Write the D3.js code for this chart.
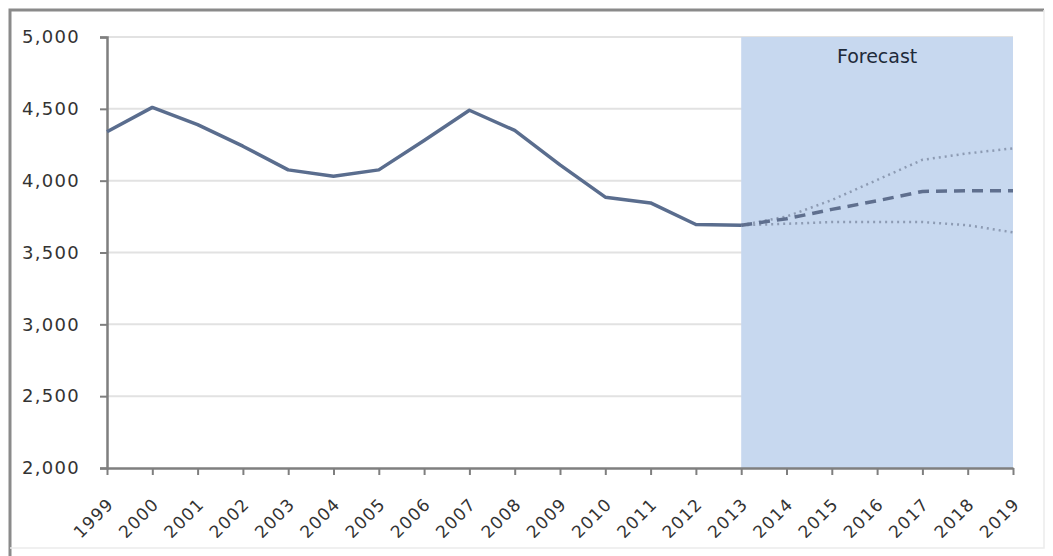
<!DOCTYPE html>
<html>
<head>
<meta charset="utf-8">
<script src="https://cdn.jsdelivr.net/npm/d3@7"></script>
<style>
  html, body { margin: 0; padding: 0; background: #ffffff; }
  svg { display: block; }
  text { font-family: "DejaVu Sans", Verdana, sans-serif; }
</style>
</head>
<body>
<svg id="chart" width="1053" height="556"></svg>
<script>
// Years on the category axis
const years = ["1999","2000","2001","2002","2003","2004","2005","2006","2007","2008","2009",
               "2010","2011","2012","2013","2014","2015","2016","2017","2018","2019"];

// Actual values, 1999–2013
const actualYears = years.slice(0, 15);
const actualValues = [4340, 4510, 4390, 4240, 4075, 4030, 4075, 4280, 4490, 4350, 4110, 3885, 3845, 3695, 3690];

// Forecast, 2013–2019: central path with high and low bounds
const forecastYears = ["2013","2014","2015","2016","2017","2018","2019"];
const forecastMid  = [3690, 3735, 3800, 3860, 3925, 3930, 3930];
const forecastHigh = [3690, 3750, 3865, 4005, 4145, 4190, 4225];
const forecastLow  = [3690, 3700, 3712, 3712, 3712, 3690, 3640];

const yTicks = [2000, 2500, 3000, 3500, 4000, 4500, 5000];
const forecastLabel = "Forecast";

const svg = d3.select("#chart");

// Outer frame
svg.append("path")
  .attr("d", "M10,556 L10,10 L1044,10")
  .attr("fill", "none").attr("stroke", "#8a8a8a").attr("stroke-width", 3);
svg.append("path")
  .attr("d", "M1044,10 L1044,548 L10,548")
  .attr("fill", "none").attr("stroke", "#ececec").attr("stroke-width", 1.5);

const x = d3.scalePoint().domain(years).range([107, 1013]);
const y = d3.scaleLinear().domain([2000, 5000]).range([468, 37]);

// Horizontal gridlines
svg.append("g").selectAll("line")
  .data(yTicks.filter(d => d > 2000))
  .join("line")
  .attr("x1", x("1999")).attr("x2", x("2019"))
  .attr("y1", d => y(d)).attr("y2", d => y(d))
  .attr("stroke", "#e2e2e2").attr("stroke-width", 2);

// Forecast band
svg.append("rect")
  .attr("x", x("2013")).attr("y", y(5000))
  .attr("width", x("2019") - x("2013"))
  .attr("height", y(2000) - y(5000))
  .attr("fill", "#c7d8ef");

svg.append("text")
  .attr("x", (x("2013") + x("2019")) / 2)
  .attr("y", 63)
  .attr("text-anchor", "middle")
  .attr("font-size", 19)
  .attr("fill", "#1e2a3a")
  .text(forecastLabel);

// Axes
const yAxis = d3.axisLeft(y).tickValues(yTicks).tickFormat(d3.format(","))
  .tickSize(7).tickPadding(20);
const gy = svg.append("g").attr("transform", `translate(${x("1999")},0)`).call(yAxis);
gy.select(".domain").attr("stroke", "#7f7f7f").attr("stroke-width", 2.5);
gy.selectAll(".tick line").attr("stroke", "#7f7f7f").attr("stroke-width", 2);
gy.selectAll(".tick text")
  .attr("font-size", 18).attr("fill", "#333").attr("letter-spacing", 1.3)
  .style("font-family", "DejaVu Sans, sans-serif");

const xAxis = d3.axisBottom(x).tickSize(7).tickSizeOuter(0);
const gx = svg.append("g").attr("transform", `translate(0,${y(2000)})`).call(xAxis);
gx.select(".domain").attr("stroke", "#7f7f7f").attr("stroke-width", 2.5);
gx.selectAll(".tick line").attr("stroke", "#7f7f7f").attr("stroke-width", 2);
gx.selectAll(".tick text")
  .attr("x", 0).attr("y", 0).attr("dy", "0.35em")
  .attr("text-anchor", "end")
  .attr("transform", "translate(3,33) rotate(-45)")
  .attr("font-size", 17).attr("fill", "#333").attr("letter-spacing", 1.2)
  .style("font-family", "DejaVu Sans, sans-serif");

// Lines
const line = d3.line().x(d => x(d[0])).y(d => y(d[1]));

svg.append("path")
  .datum(actualYears.map((yr, i) => [yr, actualValues[i]]))
  .attr("d", line)
  .attr("fill", "none").attr("stroke", "#5a6d8e").attr("stroke-width", 3.5)
  .attr("stroke-linejoin", "round");

svg.append("path")
  .datum(forecastYears.map((yr, i) => [yr, forecastHigh[i]]))
  .attr("d", line)
  .attr("fill", "none").attr("stroke", "#8d9bb3").attr("stroke-width", 2.5)
  .attr("stroke-dasharray", "2,4");

svg.append("path")
  .datum(forecastYears.map((yr, i) => [yr, forecastLow[i]]))
  .attr("d", line)
  .attr("fill", "none").attr("stroke", "#8d9bb3").attr("stroke-width", 2.5)
  .attr("stroke-dasharray", "2,4");

svg.append("path")
  .datum(forecastYears.map((yr, i) => [yr, forecastMid[i]]))
  .attr("d", line)
  .attr("fill", "none").attr("stroke", "#5f6f8e").attr("stroke-width", 3.5)
  .attr("stroke-dasharray", "11,7");
</script>
</body>
</html>
